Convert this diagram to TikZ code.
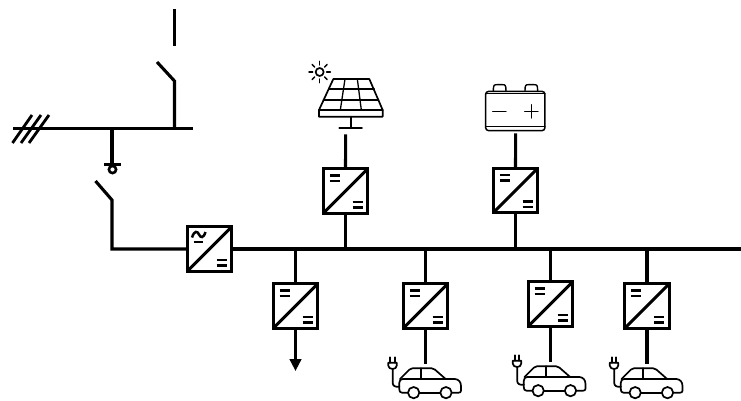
\documentclass[tikz,border=0pt]{standalone}
\usetikzlibrary{arrows.meta}
\tikzset{
  x=1pt,y=-1pt,
  wire/.style={line width=3.1pt,line join=miter},
  icon/.style={line width=1.7pt,line join=round,line cap=round},
  dcmarks/.style={line width=2.5pt},
  convbase/.style={draw,line width=3.4pt,minimum size=44.5pt,inner sep=0pt,outer sep=0pt,fill=white},
  dcconv/.style={convbase,path picture={
    \begin{scope}[shift={(path picture bounding box.center)}]
      \draw[line width=3pt] (-22,22)--(22,-22);
      \draw[dcmarks] (-16,-15.5)--(-6,-15.5) (-16,-10.2)--(-6,-10.2);
      \draw[dcmarks] (7,11)--(17,11) (7,16.3)--(17,16.3);
    \end{scope}}},
  acconv/.style={convbase,path picture={
    \begin{scope}[shift={(path picture bounding box.center)}]
      \draw[line width=3pt] (-22,22)--(22,-22);
      \draw[line width=2.5pt] (-17.5,-11.5) .. controls (-15,-19) and (-12,-18) .. (-10.5,-14.5) .. controls (-9,-11) and (-6,-10.5) .. (-4,-17);
      \draw[dcmarks] (-16,-7)--(-7,-7);
      \draw[dcmarks] (7,11)--(17,11) (7,16.3)--(17,16.3);
    \end{scope}}},
  evcar/.pic={
    \begin{scope}[x=0.3333pt,y=-0.3333pt]
      % plug
      \draw[icon] (31,262)--(31,278) (44,262)--(44,278);
      \draw[icon] (25,278)--(50,278)--(50,287) .. controls (50,293) and (45,297) .. (38,297) .. controls (31,297) and (25,293) .. (25,287)--cycle;
      \draw[icon] (38,297)--(38,338) .. controls (38,348) and (46,352) .. (58,350);
      % body
      \draw[icon] (84,368)--(66,368) .. controls (60,368) and (58,364) .. (58,358)--(58,338) .. controls (58,332) and (62,327) .. (68,327)--(225,327) .. controls (236,328) and (243,336) .. (243,348)--(243,362) .. controls (243,366) and (240,368) .. (236,368)--(215,368);
      \draw[icon] (118,368)--(181,368);
      \draw[icon] (60,327)--(88,299) .. controls (90,296) and (93,295) .. (97,295)--(155,295) .. controls (159,295) and (162,296) .. (165,299)--(197,327);
      \draw[icon] (124,295)--(124,327);
      \draw[icon] (101,368) circle[radius=17];
      \draw[icon] (198,368) circle[radius=17];
    \end{scope}
  }
}
\begin{document}
\begin{tikzpicture}
\useasboundingbox (0,0) rectangle (741,400);
% grid side
\coordinate (feedtop) at (174.5,9);
\coordinate (feedgap) at (174.5,46);
\coordinate (sw1a) at (157,62);
\coordinate (sw1b) at (174.5,81);
\coordinate (gridL) at (13,128.5);
\coordinate (gridR) at (193,128.5);
\coordinate (sw1c) at (174.5,128.5);
\coordinate (gnd) at (112,128.5);
\coordinate (gndb) at (112,164.5);
\coordinate (sw2a) at (95.5,181);
\coordinate (sw2b) at (112,200);
\coordinate (sw2c) at (112,249);
\coordinate (busend) at (741,249);
\draw[wire] (feedtop)--(feedgap);
\draw[wire] (sw1a)--(sw1b)--(sw1c);
\draw[wire] (gridL)--(gridR);
\draw[wire,line width=2.8pt] (12.5,143)--(32,115) (21,143)--(41,115) (29,143)--(49,115);
\draw[wire] (gnd)--(gndb);
\draw[line width=2.8pt] (104,164.5)--(120.5,164.5);
\draw[line width=2.6pt] (112.5,169.5) circle[radius=3.6];
% converters
\node[acconv] (ac) at (209.5,249) {};
\node[dcconv] (pvc) at (345.5,191) {};
\node[dcconv] (batc) at (515.5,190.5) {};
\node[dcconv] (loadc) at (295.5,306) {};
\node[dcconv] (ev1) at (425.5,306) {};
\node[dcconv] (ev2) at (550.5,304) {};
\node[dcconv] (ev3) at (647,306) {};
\draw[wire] (sw2a)--(sw2b)--(sw2c)--(ac.west);
\draw[wire] (ac.east)--(busend);
\draw[wire] (pvc.south)--(pvc.south |- busend);
\draw[wire] (batc.south)--(batc.south |- busend);
\draw[wire] (loadc.north)--(loadc.north |- busend);
\draw[wire] (ev1.north)--(ev1.north |- busend);
\draw[wire] (ev2.north)--(ev2.north |- busend);
\draw[wire] (ev3.north)--(ev3.north |- busend);
% load arrow
\coordinate (loadend) at (295.5,371);
\draw[line width=2.8pt,-{Triangle[length=12pt,width=11.5pt]}] (loadc.south)--(loadend);
% pv icon
\begin{scope}[shift={(300,50)},x=0.3333pt,y=-0.3333pt]
  \draw[icon] (100,87)--(208,87)--(248,180)--(248,200)--(57,200)--(57,180)--cycle;
  \draw[icon] (57,180)--(248,180);
  \draw[icon,line width=1.3pt] (86,117)--(223,117) (70,150)--(236,150);
  \draw[icon,line width=1.3pt] (135,87)--(121,180) (172,87)--(184,180);
  \draw[icon] (152,200)--(152,233) (118,233)--(186,233);
  \draw[icon] (59,66) circle[radius=12];
  \foreach \a in {0,45,...,315}{
    \draw[icon,line width=1.4pt] (59,66)++(\a:21)--++(\a:11);
  }
  \coordinate (pvfoot) at (137,253);
  % battery
  \draw[icon,line width=1.5pt,rounded corners=3pt] (557,124) rectangle (735,242);
  \draw[icon,line width=1.3pt] (557,131)--(735,131) (557,230)--(735,230);
  \draw[icon,line width=1.4pt] (580,124) .. controls (580,104) and (582,104) .. (592,104)--(606,104) .. controls (616,104) and (618,104) .. (618,124);
  \draw[icon,line width=1.4pt] (675,124) .. controls (675,104) and (677,104) .. (687,104)--(701,104) .. controls (711,104) and (713,104) .. (713,124);
  \draw[icon,line width=1.3pt] (578,184)--(618,184);
  \draw[icon,line width=1.3pt] (674,184)--(714,184) (694,164)--(694,204);
  \coordinate (batfoot) at (647,250);
\end{scope}
\draw[wire] (pvfoot)--(pvc.north);
\draw[wire] (batfoot)--(batc.north);
% ev chargers
\coordinate (ev1end) at (425.5,363.5);
\coordinate (ev2end) at (550.5,361.5);
\coordinate (ev3end) at (647,363.5);
\draw[wire] (ev1.south)--(ev1end);
\draw[wire] (ev2.south)--(ev2end);
\draw[wire] (ev3.south)--(ev3end);
\pic at (380,270) {evcar};
\pic at (504.5,268) {evcar};
\pic at (601.5,270) {evcar};
\end{tikzpicture}
\end{document}
